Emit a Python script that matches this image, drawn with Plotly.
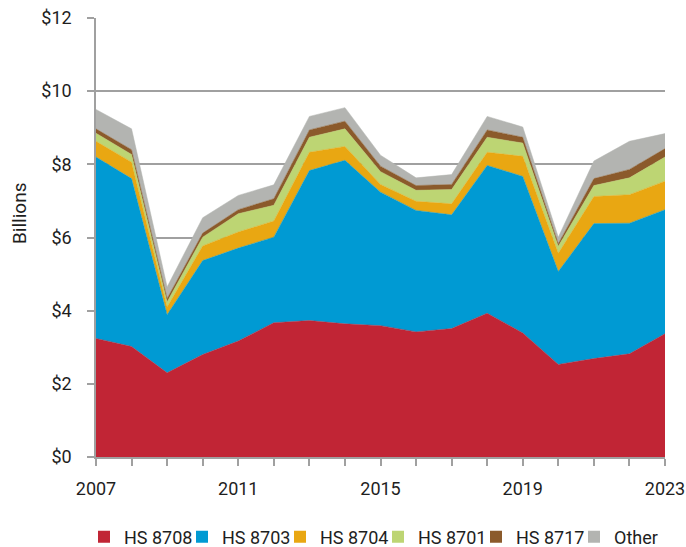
import plotly.graph_objects as go

years = list(range(2007, 2024))
hs8708 = [3.24, 3.02, 2.30, 2.80, 3.17, 3.67, 3.73, 3.64, 3.59, 3.42, 3.51, 3.93, 3.39, 2.53, 2.69, 2.82, 3.37]
hs8703 = [4.96, 4.59, 1.59, 2.57, 2.54, 2.34, 4.10, 4.47, 3.65, 3.32, 3.11, 4.04, 4.28, 2.54, 3.69, 3.57, 3.39]
hs8704 = [0.43, 0.45, 0.21, 0.40, 0.44, 0.44, 0.50, 0.38, 0.21, 0.25, 0.30, 0.36, 0.55, 0.50, 0.74, 0.78, 0.78]
hs8701 = [0.22, 0.21, 0.14, 0.24, 0.50, 0.43, 0.41, 0.48, 0.35, 0.30, 0.39, 0.41, 0.36, 0.19, 0.30, 0.46, 0.66]
hs8717 = [0.12, 0.13, 0.09, 0.11, 0.11, 0.18, 0.20, 0.21, 0.15, 0.13, 0.14, 0.20, 0.16, 0.07, 0.19, 0.23, 0.23]
other = [0.53, 0.57, 0.32, 0.42, 0.39, 0.38, 0.37, 0.37, 0.30, 0.21, 0.27, 0.37, 0.28, 0.18, 0.48, 0.77, 0.41]

series_names = ["HS 8708", "HS 8703", "HS 8704", "HS 8701", "HS 8717", "Other"]
series_values = [hs8708, hs8703, hs8704, hs8701, hs8717, other]
colors = ["#C12535", "#009AD3", "#E9A712", "#BDD573", "#8B5A2B", "#B3B4B1"]

x_tick_vals = years
x_tick_text = [str(y) if (y - 2007) % 4 == 0 else "" for y in years]

FONT = "Roboto"
W, H = 686, 547
ML, MR, MT, MB = 96, 21, 18, 90

fig = go.Figure()
for name, vals, col in zip(series_names, series_values, colors):
    fig.add_trace(go.Scatter(
        x=years, y=vals, name=name, stackgroup="one", mode="lines",
        line=dict(width=0.5, color=col), fillcolor=col, showlegend=False,
        hoverinfo="x+y+name"))
for name, col in zip(series_names, colors):
    fig.add_trace(go.Scatter(
        x=[None], y=[None], name=name, mode="markers",
        marker=dict(symbol="square", size=12, color=col), showlegend=True))

grid = "#A0A0A0"
pw = W - ML - MR
ph = H - MT - MB
fig.update_layout(
    width=W, height=H,
    margin=dict(l=ML, r=MR, t=MT, b=MB, autoexpand=False),
    paper_bgcolor="white", plot_bgcolor="white",
    font=dict(family=FONT, size=18, color="#1e1e1e"),
    showlegend=True,
    legend=dict(orientation="h", xref="paper", yref="paper",
                x=(84 - ML) / pw, xanchor="left",
                y=-(537 - (H - MB)) / ph, yanchor="middle",
                font=dict(size=18), itemwidth=30, entrywidth=53, entrywidthmode="pixels",
                traceorder="normal", tracegroupgap=0),
    xaxis=dict(range=[2007, 2023], tickvals=x_tick_vals, ticktext=x_tick_text,
               ticks="outside", ticklen=7, tickcolor=grid, tickwidth=1.5,
               showline=True, linecolor=grid, linewidth=1.5, showgrid=False,
               zeroline=False, ticklabelstandoff=8),
    yaxis=dict(range=[0, 12], dtick=2, tickprefix="$", ticks="outside", ticklen=7,
               tickcolor=grid, tickwidth=1.5, showline=True, linecolor=grid, linewidth=1.5,
               showgrid=True, gridcolor=grid, gridwidth=1.5, zeroline=False,
               ticklabelstandoff=12),
    annotations=[dict(text="Billions", x=(19 - ML) / pw, xref="paper", xanchor="center",
                      y=(H - MB - 214) / ph, yref="paper", yanchor="middle",
                      showarrow=False, textangle=-90, font=dict(size=19))],
)
fig.write_html("out.html", config={"displayModeBar": False},
               post_script="document.body.style.margin='0px';")
